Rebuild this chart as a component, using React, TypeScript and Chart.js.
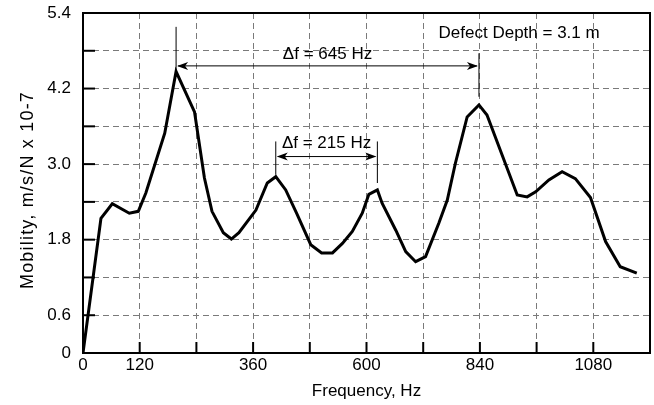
import React, { useEffect, useRef } from "react";
import { Chart, registerables } from "chart.js";

Chart.register(...registerables);

const frequencies = [0, 38, 62, 98, 117, 133, 173, 197, 236, 257, 273, 297, 314, 330, 366, 390, 408, 429, 452, 482, 505, 528, 549, 570, 591, 605, 623, 633, 662, 683, 704, 725, 753, 771, 788, 813, 838, 855, 919, 940, 958, 986, 1014, 1042, 1074, 1106, 1137, 1172];
const mobility = [0, 2.14, 2.37, 2.22, 2.25, 2.54, 3.49, 4.47, 3.83, 2.78, 2.25, 1.91, 1.81, 1.91, 2.27, 2.7, 2.8, 2.59, 2.22, 1.72, 1.59, 1.59, 1.74, 1.93, 2.22, 2.52, 2.59, 2.38, 1.95, 1.61, 1.45, 1.53, 2.06, 2.43, 3.01, 3.75, 3.94, 3.78, 2.51, 2.48, 2.56, 2.75, 2.88, 2.77, 2.47, 1.77, 1.37, 1.27];
const xLabels = [0, 120, 360, 600, 840, 1080];
const yLabels = ["0", "0.6", "1.8", "3.0", "4.2", "5.4"];
const xTitle = "Frequency, Hz";
const yTitle = "Mobility, m/s/N x 10-7";
const note = "Defect Depth = 3.1 m";
const arrows = [
  { from: 197, to: 838, level: 4.56, label: "\u0394f = 645 Hz", labelY: 4.74, lt: 5.18, lb: 4.49, rt: 4.76, rb: 4.07 },
  { from: 408, to: 623, level: 3.12, label: "\u0394f = 215 Hz", labelY: 3.33, lt: 3.36, lb: 2.83, rt: 3.36, rb: 2.7 },
];

const FONT = "Arial, 'Liberation Sans', Helvetica, sans-serif";
const FS = 17;

export default function App() {
  const ref = useRef<HTMLCanvasElement | null>(null);
  useEffect(() => {
    document.body.style.margin = "0";
    const ctx = ref.current!.getContext("2d")!;
    const overlay = {
      id: "overlay",
      afterDraw(chart: any) {
        const c = chart.ctx;
        const a = chart.chartArea;
        const xs = chart.scales.x;
        const ys = chart.scales.y;
        c.save();
        c.strokeStyle = "#000";
        c.lineWidth = 2;
        for (let v = 120; v < 1200; v += 120) {
          const px = xs.getPixelForValue(v);
          c.beginPath();
          c.moveTo(px, a.bottom);
          c.lineTo(px, a.bottom - 11);
          c.stroke();
        }
        for (let i = 1; i < 9; i++) {
          const py = ys.getPixelForValue(i * 0.6);
          c.beginPath();
          c.moveTo(a.left, py);
          c.lineTo(a.left + 12, py);
          c.stroke();
        }
        c.lineWidth = 2;
        c.strokeRect(a.left, a.top, a.right - a.left, a.bottom - a.top);
        c.lineWidth = 1;
        c.fillStyle = "#000";
        c.font = FS + "px " + FONT;
        c.textAlign = "center";
        c.textBaseline = "middle";
        for (const ar of arrows) {
          const x1 = xs.getPixelForValue(ar.from);
          const x2 = xs.getPixelForValue(ar.to);
          const y = ys.getPixelForValue(ar.level);
          c.beginPath();
          c.moveTo(x1, ys.getPixelForValue(ar.lt));
          c.lineTo(x1, ys.getPixelForValue(ar.lb));
          c.moveTo(x2, ys.getPixelForValue(ar.rt));
          c.lineTo(x2, ys.getPixelForValue(ar.rb));
          c.moveTo(x1 + 2, y);
          c.lineTo(x2 - 2, y);
          c.stroke();
          c.beginPath();
          c.moveTo(x1 + 1, y);
          c.lineTo(x1 + 12, y - 4);
          c.lineTo(x1 + 9, y);
          c.lineTo(x1 + 12, y + 4);
          c.closePath();
          c.fill();
          c.beginPath();
          c.moveTo(x2 - 1, y);
          c.lineTo(x2 - 12, y - 4);
          c.lineTo(x2 - 9, y);
          c.lineTo(x2 - 12, y + 4);
          c.closePath();
          c.fill();
          c.fillText(ar.label, (x1 + x2) / 2, ys.getPixelForValue(ar.labelY));
        }
        c.fillText(note, xs.getPixelForValue(923), ys.getPixelForValue(5.08));
        c.fillText(xTitle, (a.left + a.right) / 2, 391);
        c.translate(28, 190);
        c.rotate(-Math.PI / 2);
        c.font = "18px " + FONT;
        try { (c as any).letterSpacing = "1.2px"; } catch (e) {}
        c.fillText(yTitle, 0, 0);
        c.restore();
      },
    };
    const chart = new Chart(ctx, {
      type: "scatter",
      data: {
        datasets: [
          {
            data: frequencies.map((f, i) => ({ x: f, y: mobility[i] })),
            showLine: true,
            borderColor: "#000",
            borderWidth: 3,
            pointRadius: 0,
            tension: 0,
            fill: false,
          },
        ],
      },
      options: {
        animation: false,
        responsive: false,
        devicePixelRatio: 1,
        layout: { padding: { top: 13, right: 4, left: 0, bottom: 0 } },
        plugins: { legend: { display: false }, tooltip: { enabled: false } },
        scales: {
          x: {
            type: "linear",
            min: 0,
            max: 1200,
            afterFit: (s: any) => {
              s.height = 52;
              s.paddingLeft = 0;
              s.paddingRight = 0;
            },
            afterBuildTicks: (s: any) => {
              const t = [];
              for (let v = 0; v <= 1200; v += 120) t.push({ value: v });
              s.ticks = t;
            },
            ticks: {
              autoSkip: false,
              maxRotation: 0,
              color: "#000",
              font: { family: FONT, size: FS },
              padding: 2,
              callback: (v: any) => (xLabels.includes(Number(v)) ? String(v) : ""),
            },
            grid: { color: "#7a7a7a", lineWidth: 1, drawTicks: false, tickLength: 0 },
            border: { display: false, dash: [6, 4] },
          },
          y: {
            type: "linear",
            min: 0,
            max: 5.4,
            afterFit: (s: any) => {
              s.width = 83;
              s.paddingTop = 0;
              s.paddingBottom = 0;
            },
            afterBuildTicks: (s: any) => {
              const t = [];
              for (let i = 0; i <= 9; i++) t.push({ value: Math.round(i * 6) / 10 });
              s.ticks = t;
            },
            ticks: {
              autoSkip: false,
              color: "#000",
              font: { family: FONT, size: FS },
              padding: 12,
              callback: (v: any) => {
                const s = Number(v) === 0 ? "0" : Number(v).toFixed(1);
                return yLabels.includes(s) ? s : "";
              },
            },
            grid: { color: "#7a7a7a", lineWidth: 1, drawTicks: false, tickLength: 0 },
            border: { display: false, dash: [6, 4] },
          },
        },
      },
      plugins: [overlay],
    } as any);
    return () => chart.destroy();
  }, []);
  return (
    <div style={{ position: "fixed", left: 0, top: 0, width: 654, height: 405, background: "#fff" }}>
      <canvas ref={ref} width={654} height={405} style={{ display: "block" }} />
    </div>
  );
}
